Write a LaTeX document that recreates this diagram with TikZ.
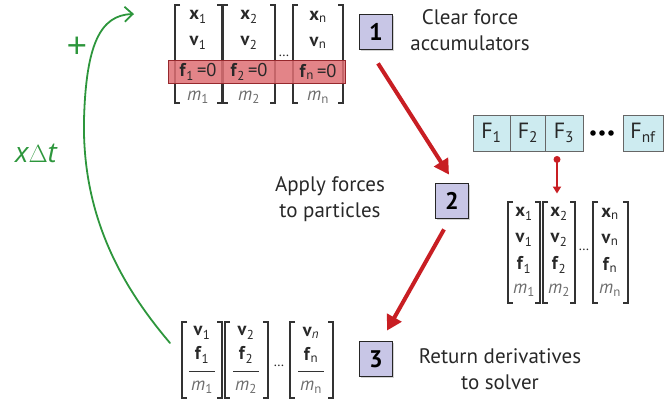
\documentclass[tikz,border=0pt]{standalone}
\usepackage{fontspec}
\setmainfont{PT Sans}
\newfontfamily\handfont{Open Sans}
\usetikzlibrary{arrows.meta,shadows}
\definecolor{arrowred}{RGB}{200,30,35}
\definecolor{boxfill}{RGB}{200,198,230}
\definecolor{forcefill}{RGB}{205,235,240}
\definecolor{bandfill}{RGB}{222,110,115}
\definecolor{bandline}{RGB}{150,40,45}
\definecolor{greenline}{RGB}{45,150,60}
\definecolor{mgray}{RGB}{110,110,110}
\definecolor{txt}{RGB}{40,40,40}
\newcommand{\pcol}[4]{%
  \draw[brk] (#1+5,#3) -- (#1,#3) -- (#1,#4) -- (#1+5,#4);
  \draw[brk] (#2-5,#3) -- (#2,#3) -- (#2,#4) -- (#2-5,#4);}
\newcommand{\vb}[2]{\textbf{#1}\textsubscript{\mdseries#2}}
\newcommand{\mm}[1]{\textcolor{mgray}{\textit{m}\textsubscript{#1}}}
\begin{document}
\begin{tikzpicture}[x=1pt,y=-1pt,
  brk/.style={draw=black!80,line width=1.3pt},
  ent/.style={inner sep=0pt,text=txt,font=\fontsize{18.5}{18.5}\selectfont},
  stepbox/.style={draw=black!85,line width=1.8pt,fill=boxfill,minimum width=33pt,minimum height=35pt,inner sep=0pt,
     font=\fontsize{24}{24}\selectfont\bfseries,drop shadow={shadow xshift=1.5pt,shadow yshift=-1.5pt,opacity=0.35}},
  label/.style={align=center,text=txt,font=\fontsize{21}{25.5}\selectfont},
  forcebox/.style={draw=black!60,line width=0.9pt,fill=forcefill,minimum height=36pt,inner sep=0pt,text=txt,font=\fontsize{22}{22}\selectfont},
  redarrow/.style={draw=arrowred,line width=4pt,-{Triangle[length=15pt,width=16pt]}},
  pinarrow/.style={draw=arrowred,line width=2pt,-{Triangle[length=7pt,width=8pt]}},
  greenarrow/.style={draw=greenline,line width=1.8pt,line cap=round,-{Straight Barb[length=8pt,width=15pt]}},
  hand/.style={text=greenline,font=\handfont\itshape\fontsize{28}{28}\selectfont},
  dotsnode/.style={inner sep=0pt,text=txt,font=\fontsize{14}{14}\selectfont}]
\useasboundingbox (0,0) rectangle (664,405);

% ---------- top group ----------
\pcol{175}{222}{5}{103}
\pcol{223}{275}{5}{103}
\pcol{293}{343}{5}{103}
\fill[bandfill,fill opacity=0.85] (168,60) rectangle (345,83);
\draw[bandline,line width=0.9pt] (168,60) rectangle (345,83);
\node[ent] (tx1) at (198,17) {\vb{x}{1}};
\node[ent] (tx2) at (249,17) {\vb{x}{2}};
\node[ent] (txn) at (318,17) {\vb{x}{n}};
\node[ent] (tv1) at (198,43) {\vb{v}{1}};
\node[ent] (tv2) at (249,43) {\vb{v}{2}};
\node[ent] (tvn) at (318,43) {\vb{v}{n}};
\node[ent] (tf1) at (198,72) {\vb{f}{1}\,=0};
\node[ent] (tf2) at (249,72) {\vb{f}{2}\,=0};
\node[ent] (tfn) at (318,72) {\vb{f}{n}\,=0};
\node[ent] (tm1) at (198,97) {\mm{1}};
\node[ent] (tm2) at (249,97) {\mm{2}};
\node[ent] (tmn) at (318,97) {\mm{n}};
\node[dotsnode] (tdots) at (284,56) {\dots};

% ---------- step boxes ----------
\node[stepbox] (b1) at (376,32) {1};
\node[stepbox] (b2) at (452,201) {2};
\node[stepbox] (b3) at (376,359) {3};

\node[label] (l1) at (470,30) {Clear force\\accumulators};
\node[label] (l2) at (330,199) {Apply forces\\to particles};
\node[label] (l3) at (500,369) {Return derivatives\\to solver};

% ---------- forces ----------
\node[forcebox,minimum width=37pt] (F1) at (491.5,133) {F\textsubscript{1}};
\node[forcebox,minimum width=35pt] (F2) at (528,133) {F\textsubscript{2}};
\node[forcebox,minimum width=38pt] (F3) at (564,133) {F\textsubscript{3}};
\node[forcebox,minimum width=40pt] (Fnf) at (643,133) {F\textsubscript{nf}};
\fill[black] (593,133) circle (2.8) (602,133) circle (2.8) (611,133) circle (2.8);

% ---------- right group ----------
\pcol{508}{540}{202}{303}
\pcol{543}{575}{202}{303}
\pcol{593}{628}{202}{303}
\node[ent] (rx1) at (524,214) {\vb{x}{1}};
\node[ent] (rx2) at (559,214) {\vb{x}{2}};
\node[ent] (rxn) at (610,214) {\vb{x}{n}};
\node[ent] (rv1) at (524,240) {\vb{v}{1}};
\node[ent] (rv2) at (559,240) {\vb{v}{2}};
\node[ent] (rvn) at (610,240) {\vb{v}{n}};
\node[ent] (rf1) at (524,265) {\vb{f}{1}};
\node[ent] (rf2) at (559,265) {\vb{f}{2}};
\node[ent] (rfn) at (610,265) {\vb{f}{n}};
\node[ent] (rm1) at (524,290) {\mm{1}};
\node[ent] (rm2) at (559,290) {\mm{2}};
\node[ent] (rmn) at (610,290) {\mm{n}};
\node[dotsnode] (rdots) at (584,250) {\dots};

% ---------- bottom group ----------
\pcol{182}{222}{322}{398}
\pcol{225}{268}{322}{398}
\pcol{290}{333}{322}{398}
\node[ent] (bv1) at (202,333) {\vb{v}{1}};
\node[ent] (bv2) at (246,333) {\vb{v}{2}};
\node[ent] (bvn) at (311,333) {\textbf{v}\textsubscript{\textit{n}}};
\node[ent] (bf1) at (202,355) {\vb{f}{1}};
\node[ent] (bf2) at (246,355) {\vb{f}{2}};
\node[ent] (bfn) at (311,355) {\vb{f}{n}};
\node[ent] (bm1) at (202,387) {\mm{1}};
\node[ent] (bm2) at (246,387) {\mm{2}};
\node[ent] (bmn) at (311,387) {\mm{n}};
\draw[black!80,line width=1pt] (189,371) -- (215,371) (233,371) -- (259,371) (298,371) -- (324,371);
\node[dotsnode] (bdots) at (279,366) {\dots};

% ---------- arrows ----------
\draw[redarrow] ([shift={(2,13)}]b1.south) -- ([shift={(-3,-8)}]b2.north);
\draw[redarrow] ([shift={(-8,10)}]b2.south) -- ([shift={(11,-10)}]b3.north);
\fill[arrowred] ([shift={(-7,8)}]F3.south) circle (3.5);
\draw[pinarrow] ([shift={(-7,8)}]F3.south) -- ([shift={(-2,-14)}]rx2.north);

% ---------- green loop ----------
\coordinate (gstart) at (170,343);
\coordinate (gend) at (134,14);
\draw[greenarrow] (gstart) .. controls (125,290) and (82,220) .. (84,120) .. controls (86,45) and (100,15) .. (gend);
\node[hand,font=\handfont\fontsize{36}{36}\selectfont] (plus) at (77,48) {+};
\node[hand] (xdt) at (36,153) {x$\Delta$t};
\end{tikzpicture}
\end{document}
